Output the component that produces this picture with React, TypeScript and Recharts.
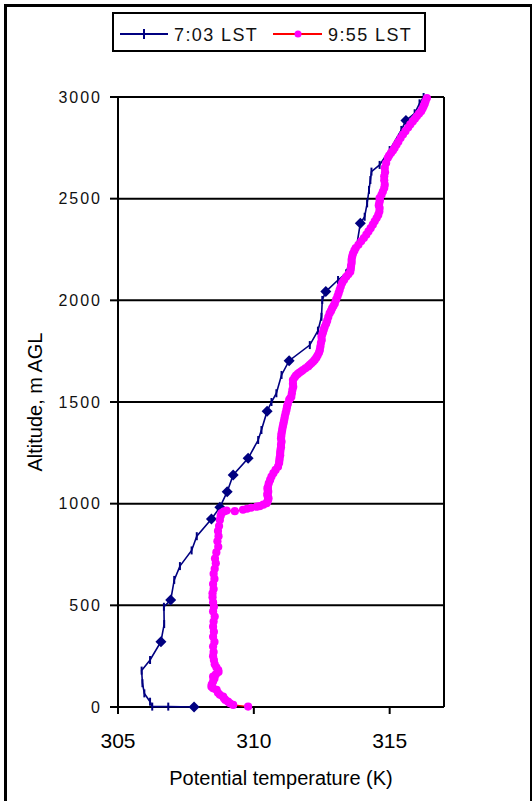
import { CartesianGrid, ReferenceLine, Scatter, ScatterChart, XAxis, YAxis } from "recharts";

const FONT = "'Liberation Sans', Arial, sans-serif";
const NAVY = "#000080";
const MAGENTA = "#FF00FF";
const RED = "#FF0000";

const seriesNames = ["7:03 LST", "9:55 LST"];
const tempTicks = [305, 310, 315];
const altTicks = [0, 500, 1000, 1500, 2000, 2500, 3000];

// early morning sounding: [potential temperature K, altitude m AGL]
const sounding0703: [number, number][] = [
  [307.8, 0], [306.85, 2], [306.26, 2], [306.18, 26], [305.97, 67], [305.9, 117],
  [305.87, 179], [306.18, 231], [306.58, 321], [306.7, 408], [306.69, 493], [306.94, 526],
  [307.07, 625], [307.28, 693], [307.71, 770], [307.9, 840], [308.44, 925], [308.75, 982],
  [309.02, 1059], [309.24, 1141], [309.79, 1223], [310.16, 1313], [310.28, 1362],
  [310.49, 1455], [310.65, 1500], [310.83, 1543], [311.02, 1633], [311.3, 1703],
  [312.06, 1780], [312.36, 1851], [312.49, 1919], [312.52, 2002], [312.65, 2043],
  [313.1, 2100], [313.4, 2133], [313.53, 2198], [313.78, 2264], [313.92, 2379],
  [314.08, 2411], [314.17, 2477], [314.24, 2543], [314.29, 2592], [314.33, 2633],
  [314.63, 2666], [315.0, 2739], [315.43, 2838], [315.6, 2884], [315.92, 2920],
  [316.1, 2969], [316.25, 3000],
];

// levels of the early sounding plotted with a diamond
const diamondAlts0703 = [0, 321, 526, 925, 982, 1059, 1141, 1223, 1455, 1703, 2043, 2379, 2884];

// mid-morning sounding: [potential temperature K, altitude m AGL]
const sounding0955: [number, number][] = [
  [309.79, 2], [309.24, 10], [309.12, 18], [309.05, 26], [308.95, 35], [308.9, 43],
  [308.87, 51], [308.75, 60], [308.68, 70], [308.63, 84], [308.5, 92], [308.44, 100],
  [308.45, 110], [308.5, 125], [308.55, 140], [308.5, 149], [308.6, 160], [308.7, 172],
  [308.69, 182], [308.62, 195], [308.56, 210], [308.53, 231], [308.5, 250], [308.52, 270],
  [308.5, 297], [308.55, 320], [308.5, 345], [308.53, 370], [308.5, 395], [308.52, 420],
  [308.56, 445], [308.5, 470], [308.53, 493], [308.5, 515], [308.48, 540], [308.48, 559],
  [308.52, 580], [308.5, 605], [308.55, 630], [308.52, 655], [308.56, 680], [308.6, 707],
  [308.57, 730], [308.62, 760], [308.69, 788], [308.66, 815], [308.7, 840], [308.68, 865],
  [308.72, 890], [308.75, 920], [308.78, 940], [308.81, 953], [308.9, 962], [309.0, 966],
  [309.3, 963], [309.6, 970], [309.75, 975], [309.9, 980], [310.1, 985], [310.22, 988],
  [310.35, 995], [310.47, 1002], [310.5, 1010], [310.52, 1018], [310.54, 1026],
  [310.52, 1034], [310.5, 1042], [310.5, 1050], [310.53, 1058], [310.52, 1066],
  [310.5, 1075], [310.52, 1083], [310.55, 1100], [310.6, 1117], [310.65, 1133],
  [310.72, 1150], [310.8, 1166], [310.89, 1182], [310.93, 1200], [310.94, 1212],
  [310.95, 1225], [310.97, 1238], [310.97, 1250], [310.98, 1264], [311.0, 1277],
  [311.0, 1290], [311.02, 1305], [311.0, 1320], [311.01, 1333], [311.02, 1346],
  [311.04, 1360], [311.06, 1375], [311.08, 1388], [311.1, 1400], [311.12, 1414],
  [311.14, 1428], [311.17, 1445], [311.2, 1461], [311.22, 1476], [311.25, 1490],
  [311.3, 1510], [311.34, 1518], [311.38, 1526], [311.4, 1543], [311.42, 1560],
  [311.45, 1575], [311.44, 1590], [311.44, 1608], [311.5, 1620], [311.55, 1630],
  [311.62, 1638], [311.68, 1645], [311.75, 1651], [311.81, 1657], [311.9, 1666],
  [312.0, 1675], [312.06, 1683], [312.12, 1690], [312.18, 1698], [312.24, 1707],
  [312.3, 1718], [312.35, 1730], [312.4, 1743], [312.43, 1756], [312.45, 1773],
  [312.47, 1790], [312.5, 1805], [312.49, 1821], [312.52, 1833], [312.55, 1845],
  [312.58, 1858], [312.61, 1870], [312.66, 1885], [312.7, 1900], [312.74, 1918],
  [312.79, 1936], [312.84, 1948], [312.88, 1960], [312.93, 1972], [312.98, 1985],
  [313.03, 2003], [313.08, 2020], [313.12, 2035], [313.16, 2051], [313.2, 2068],
  [313.25, 2085], [313.32, 2100], [313.4, 2116], [313.48, 2128], [313.55, 2140],
  [313.57, 2155], [313.58, 2170], [313.6, 2185], [313.6, 2200], [313.62, 2215],
  [313.65, 2230], [313.7, 2244], [313.75, 2257], [313.85, 2273], [313.95, 2290],
  [314.05, 2306], [314.14, 2323], [314.22, 2339], [314.3, 2355], [314.38, 2372],
  [314.45, 2389], [314.52, 2405], [314.58, 2420], [314.62, 2437], [314.63, 2454],
  [314.6, 2467], [314.62, 2480], [314.64, 2492], [314.63, 2503], [314.7, 2519],
  [314.75, 2535], [314.8, 2552], [314.82, 2569], [314.8, 2590], [314.8, 2610],
  [314.83, 2630], [314.82, 2651], [314.87, 2675], [314.93, 2700], [314.98, 2712],
  [315.05, 2725], [315.12, 2737], [315.18, 2749], [315.25, 2765], [315.32, 2780],
  [315.4, 2798], [315.49, 2815], [315.58, 2832], [315.68, 2850], [315.76, 2865],
  [315.85, 2880], [315.93, 2893], [316.0, 2905], [316.08, 2918], [316.16, 2930],
  [316.21, 2943], [316.25, 2955], [316.29, 2967], [316.32, 2979], [316.37, 2995],
];

const toPoints = (rows: [number, number][]) => rows.map(([theta, alt]) => ({ theta, alt }));

const early = toPoints(sounding0703);
const earlyDiamonds = early.filter((p) => diamondAlts0703.includes(p.alt));
const late = toPoints(sounding0955);

const DashMark = (p: any) => (
  <line x1={p.cx} x2={p.cx} y1={p.cy - 4} y2={p.cy + 4} stroke={NAVY} strokeWidth={2} />
);

const DiamondMark = (p: any) => (
  <polygon
    points={`${p.cx},${p.cy - 5.5} ${p.cx + 5.5},${p.cy} ${p.cx},${p.cy + 5.5} ${p.cx - 5.5},${p.cy}`}
    fill={NAVY}
  />
);

const DotMark = (p: any) => <circle cx={p.cx} cy={p.cy} r={4.1} fill={MAGENTA} />;

function LegendBox() {
  return (
    <div
      style={{
        position: "absolute",
        left: 112,
        top: 12,
        width: 310,
        height: 36,
        border: "2px solid #000",
        background: "#fff",
      }}
    >
      <svg width={310} height={36} style={{ display: "block" }}>
        <line x1={6} x2={54} y1={20} y2={20} stroke={NAVY} strokeWidth={2} />
        <line x1={30} x2={30} y1={15} y2={25} stroke={NAVY} strokeWidth={2} />
        <text x={60} y={27} fontSize={18} fontFamily={FONT} letterSpacing={1.4} fill="#111">
          {seriesNames[0]}
        </text>
        <line x1={159} x2={208} y1={20} y2={20} stroke={RED} strokeWidth={2} />
        <circle cx={184} cy={20} r={3.5} fill={MAGENTA} />
        <text x={214} y={27} fontSize={18} fontFamily={FONT} letterSpacing={1.4} fill="#111">
          {seriesNames[1]}
        </text>
      </svg>
    </div>
  );
}

export default function App() {
  return (
    <div style={{ position: "absolute", left: 0, top: 0, width: 532, height: 801, background: "#fff" }}>
      <div
        style={{
          position: "absolute",
          left: 4,
          top: 4,
          width: 523,
          height: 810,
          border: "3px solid #000",
        }}
      />
      <ScatterChart
        width={532}
        height={801}
        margin={{ top: 97, right: 88, bottom: 14, left: 0 }}
        style={{ position: "absolute", left: 0, top: 0 }}
      >
        <CartesianGrid vertical={false} stroke="#000" strokeWidth={2} />
        <XAxis
          type="number"
          dataKey="theta"
          domain={[305, 317]}
          ticks={tempTicks}
          height={80}
          tickSize={7}
          tickMargin={19}
          axisLine={{ stroke: "#000", strokeWidth: 2 }}
          tickLine={{ stroke: "#000", strokeWidth: 2 }}
          tick={{ fontSize: 21, fill: "#000", fontFamily: FONT }}
          label={{
            value: "Potential temperature (K)",
            position: "insideBottom",
            offset: 2,
            fontSize: 20,
            fill: "#000",
            fontFamily: FONT,
          }}
        />
        <YAxis
          type="number"
          dataKey="alt"
          domain={[0, 3000]}
          ticks={altTicks}
          width={118}
          tickSize={8}
          tickMargin={8}
          axisLine={{ stroke: "#000", strokeWidth: 2 }}
          tickLine={{ stroke: "#000", strokeWidth: 2 }}
          tick={{ fontSize: 16, fill: "#111", fontFamily: FONT, letterSpacing: 2 }}
          label={(props: any) => {
            const vb = props.viewBox || { x: 0, y: 97, height: 610 };
            const cx = 42;
            const cy = vb.y + vb.height / 2;
            return (
              <text
                x={cx}
                y={cy}
                transform={`rotate(-90, ${cx}, ${cy})`}
                textAnchor="middle"
                fontSize={20}
                fontFamily={FONT}
                fill="#000"
              >
                Altitude, m AGL
              </text>
            );
          }}
        />
        <ReferenceLine x={317} stroke="#000" strokeWidth={2} />
        <Scatter
          name={seriesNames[0]}
          data={early}
          line={{ stroke: NAVY, strokeWidth: 1.6 }}
          lineType="joint"
          shape={DashMark}
          isAnimationActive={false}
        />
        <Scatter data={earlyDiamonds} shape={DiamondMark} isAnimationActive={false} />
        <Scatter
          name={seriesNames[1]}
          data={late}
          line={{ stroke: RED, strokeWidth: 1.2 }}
          lineType="joint"
          shape={DotMark}
          isAnimationActive={false}
        />
      </ScatterChart>
      <LegendBox />
    </div>
  );
}
